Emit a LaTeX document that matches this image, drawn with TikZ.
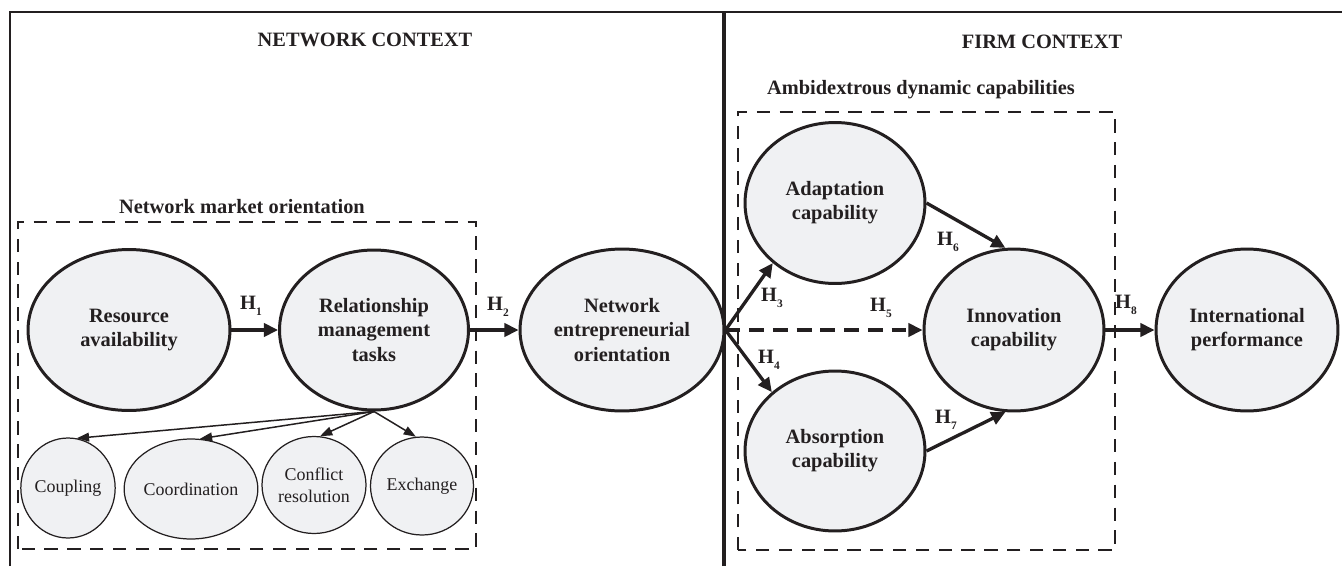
\documentclass[tikz,border=0pt]{standalone}
\usepackage{fontspec}
\setmainfont{Liberation Serif}
\usetikzlibrary{shapes.geometric,arrows.meta}
\definecolor{ink}{RGB}{35,31,32}
\definecolor{ovalfill}{RGB}{240,241,243}
\newcommand{\hyp}[1]{H\raisebox{-3.2pt}{\fontsize{6.5}{6.5}\selectfont #1}}
\tikzset{oval/.style 2 args = {ellipse, draw=ink, fill=ovalfill, line width=1.7pt,
                               inner sep=0pt, minimum width=#1, minimum height=#2,
                               align=center, text=ink,
                               font=\fontsize{11.6}{13.7}\selectfont\bfseries},
         suboval/.style 2 args = {ellipse, draw=ink, fill=ovalfill, line width=0.7pt,
                               inner sep=0pt, minimum width=#1, minimum height=#2,
                               align=center, text=ink,
                               font=\fontsize{10.2}{12.5}\selectfont},
         link/.style = {draw=ink, line width=1.9pt, -{Triangle[length=8pt,width=7.5pt]}},
         sublink/.style = {draw=ink, line width=0.85pt, -{Triangle[length=7pt,width=5pt]}},
         hlab/.style = {inner sep=0pt, text=ink, font=\fontsize{11.6}{13.7}\selectfont\bfseries},
         heading/.style = {inner sep=0pt, text=ink, font=\fontsize{11.6}{13.7}\selectfont\bfseries},
         groupbox/.style = {draw=ink, line width=1.3pt, dash pattern=on 7.6pt off 5.4pt}}

\begin{document}
\begin{tikzpicture}[x=0.02cm,y=0.02cm]
    \useasboundingbox (0,0) rectangle (1342,566);
    \draw[ink,line width=1.2pt] (10,0)--(10,554)--(1342,554);
    \draw[ink,line width=2.5pt] (724,0)--(724,554);

    \node[heading] (netctx) at (365,526) {NETWORK CONTEXT};
    \node[heading] (firmctx) at (1042,524) {FIRM CONTEXT};
    \node[heading] (nmo) at (242,359) {Network market orientation};
    \node[heading] (adc) at (921,476) {Ambidextrous dynamic capabilities};

    \draw[groupbox] (18,17) rectangle (476,344);
    \draw[groupbox] (738,16) rectangle (1115,454);

    \node[oval={4.04cm}{3.22cm}] (res) at (129,236) {Resource\\availability};
    \node[oval={3.78cm}{3.2cm}] (rel) at (374,236) {Relationship\\management\\tasks};
    \node[oval={4.08cm}{3.24cm}] (neo) at (622,236) {Network\\entrepreneurial\\orientation};
    \node[oval={3.6cm}{3.22cm}] (adapt) at (835,363) {Adaptation\\capability};
    \node[oval={3.6cm}{3.2cm}] (absorp) at (835,115) {Absorption\\capability};
    \node[oval={3.6cm}{3.24cm}] (innov) at (1014,236) {Innovation\\capability};
    \node[oval={3.64cm}{3.24cm}] (intl) at (1247,236) {International\\performance};

    \node[suboval={1.84cm}{2cm}] (coupl) at (68,78) {Coupling};
    \node[suboval={2.66cm}{2cm}] (coord) at (191,77) {Coordination};
    \node[suboval={2.08cm}{1.94cm}] (confl) at (314,81) {Conflict\\resolution};
    \node[suboval={2.06cm}{1.96cm}] (exch) at (422,80) {Exchange};

    \draw[link] (res)--(rel);
    \draw[link] (rel)--(neo);
    \draw[link] (neo.east)--(adapt.224);
    \draw[link] (neo.east)--(absorp.137);
    \draw[link,dash pattern=on 8.5pt off 5pt] (neo.east)--(innov.west);
    \draw[link] (adapt.east)--(innov.96);
    \draw[link] (absorp.east)--(innov.264);
    \draw[link] (innov)--(intl);

    \draw[sublink] (rel.south)--(coupl.80);
    \draw[sublink] (rel.south)--(coord.80);
    \draw[sublink] (rel.south)--(confl.83);
    \draw[sublink] (rel.south)--(exch.97);

    \node[hlab] (h1) at (251,260) {\hyp{1}};
    \node[hlab] (h2) at (498,259) {\hyp{2}};
    \node[hlab] (h3) at (772,268) {\hyp{3}};
    \node[hlab] (h4) at (769,206) {\hyp{4}};
    \node[hlab] (h5) at (881,258) {\hyp{5}};
    \node[hlab] (h6) at (948,324) {\hyp{6}};
    \node[hlab] (h7) at (946,146) {\hyp{7}};
    \node[hlab] (h8) at (1126,261) {\hyp{8}};
\end{tikzpicture}
\end{document}
